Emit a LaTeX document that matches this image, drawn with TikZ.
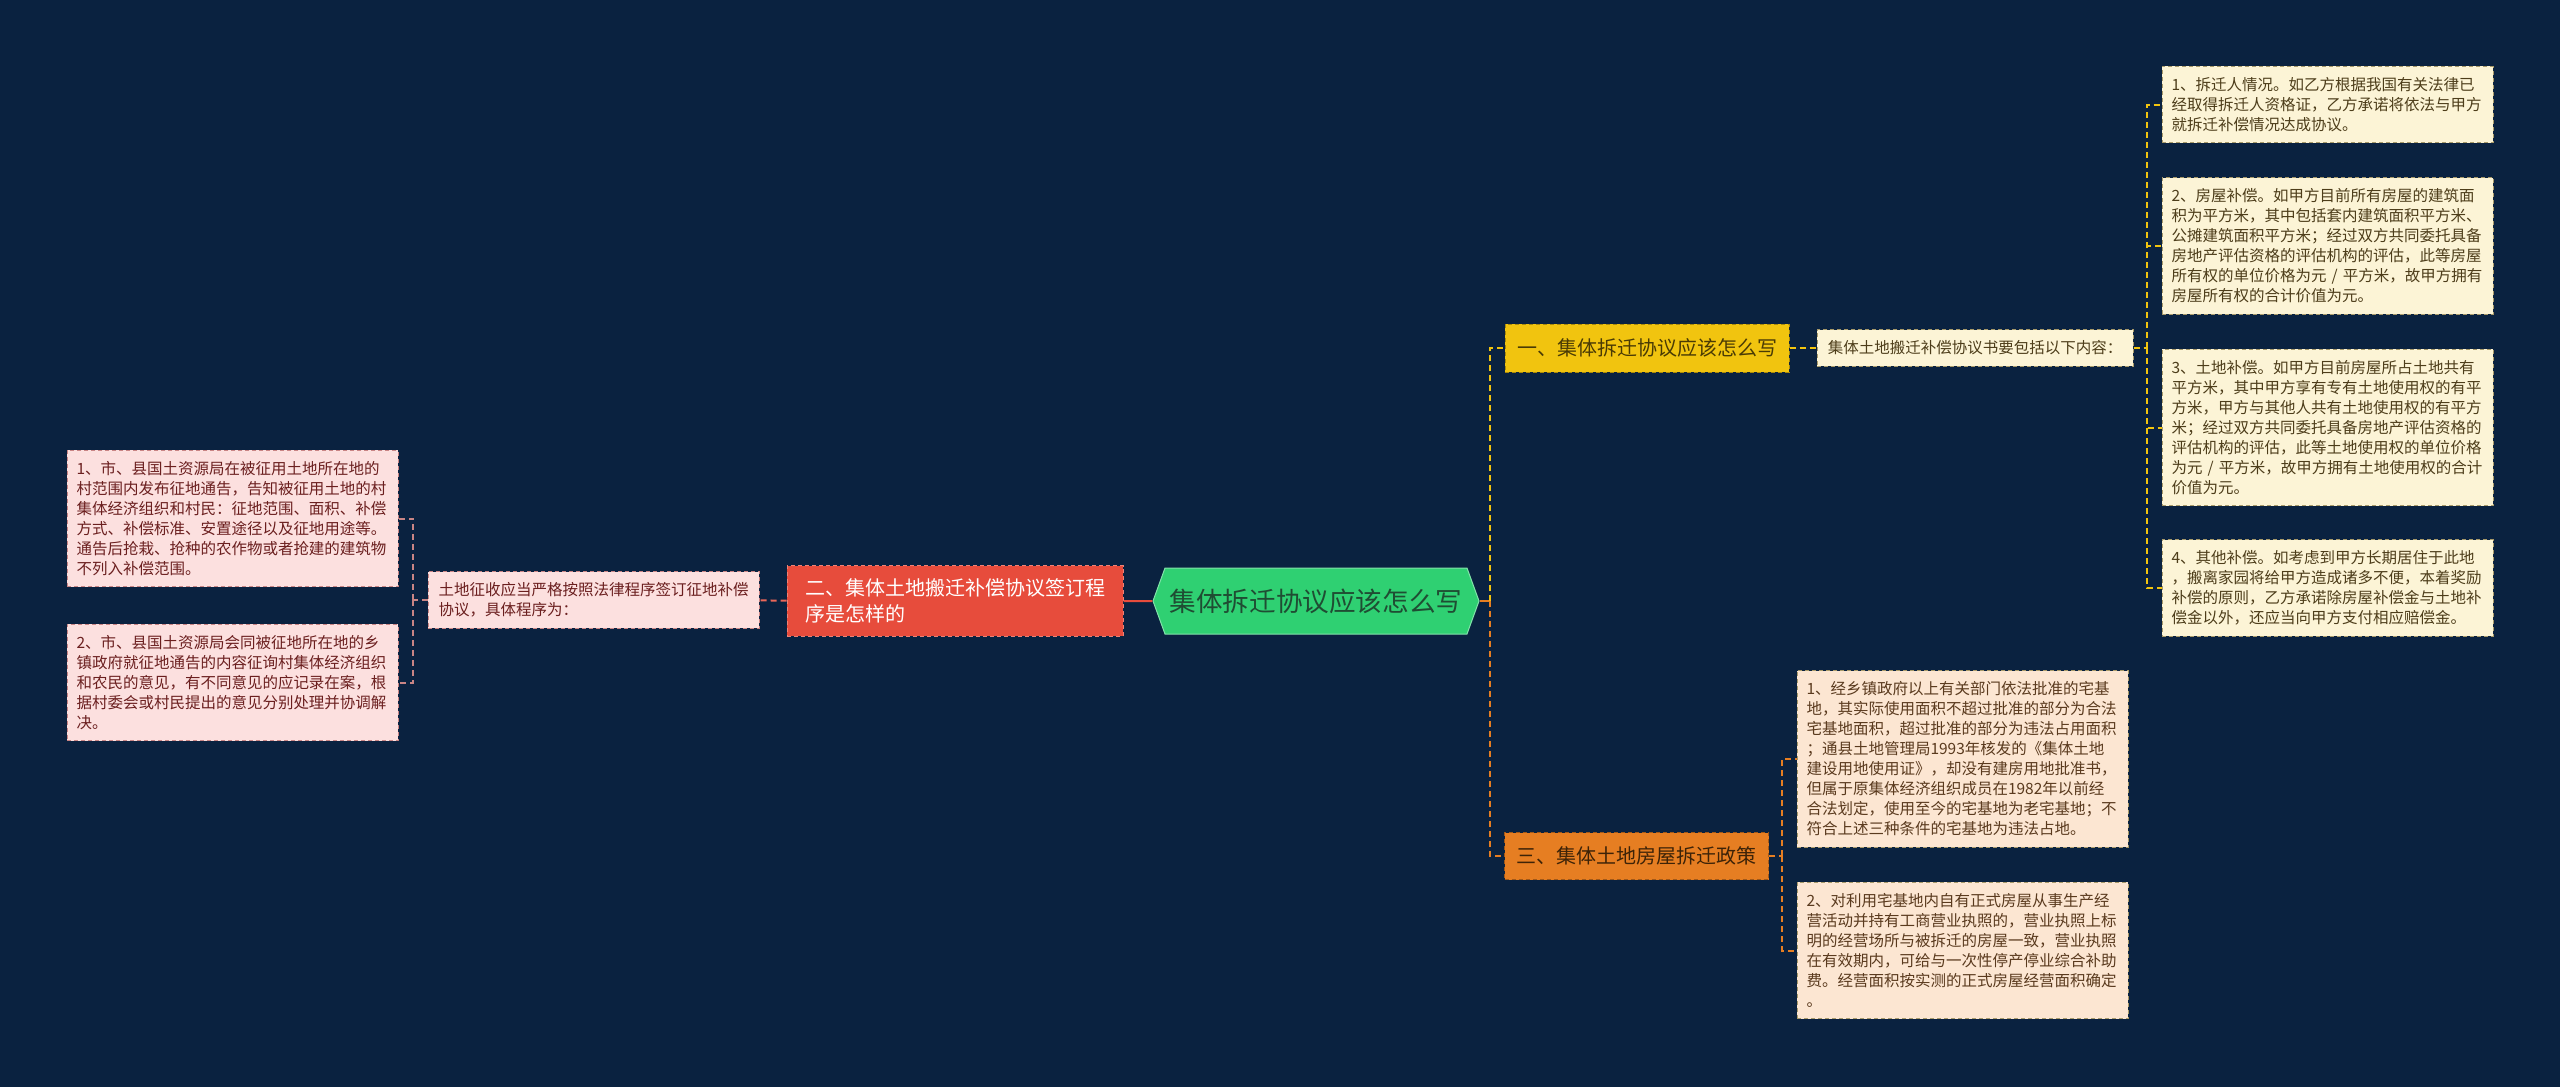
\documentclass[tikz,border=0pt]{standalone}
\usepackage{fontspec}
\newfontfamily\cjk{Noto Sans CJK SC}
\usepackage{xcolor}
\usetikzlibrary{shapes.symbols}

\definecolor{bgnavy}{HTML}{0A2240}
\definecolor{rootgreen}{HTML}{2FD072}
\definecolor{roottext}{HTML}{1F4D33}
\definecolor{redbox}{HTML}{E74C3C}
\definecolor{pinkfill}{HTML}{FCE0DF}
\definecolor{pinktext}{HTML}{6B1F1F}
\definecolor{pinkline}{HTML}{C98585}
\definecolor{yellowbox}{HTML}{F1C40F}
\definecolor{yellowtext}{HTML}{4A3B05}
\definecolor{creamfill}{HTML}{FCF4D6}
\definecolor{creamtext}{HTML}{4D3D1A}
\definecolor{creamline}{HTML}{A89A6A}
\definecolor{orangebox}{HTML}{E67E22}
\definecolor{orangetext}{HTML}{3D2308}
\definecolor{peachfill}{HTML}{FCE6D2}
\definecolor{peachtext}{HTML}{5A3A1E}

\begin{document}
\begin{tikzpicture}[x=0.5pt,y={(0pt,-0.5pt)},
  box/.style={dash pattern=on 2pt off 1.5pt,line width=0.5pt,inner ysep=5.5pt},
  small/.style={font=\cjk\fontsize{7.75}{10}\selectfont},
  mid/.style={font=\cjk\fontsize{10}{13}\selectfont},
  leaf/.style={box,small,text width=156pt,inner xsep=4.75pt,align=left},
  link/.style={line width=1pt,dash pattern=on 3pt off 2pt}]
  \fill[bgnavy] (0,0) rectangle (2560,1087);
  \useasboundingbox (0,0) rectangle (2560,1087);
  % ---------------- root ----------------
  \node[shape=signal,signal to=west and east,signal pointer angle=140,
    fill=rootgreen,draw=rootgreen!60!white,line width=0.5pt,
    minimum width=163pt,minimum height=33pt,inner sep=2pt,text=roottext,
    font=\cjk\fontsize{13.3}{16}\selectfont] (root) at (1316,601) {集体拆迁协议应该怎么写};
  % ---------------- left: 二 ----------------
  \node[box,draw=redbox!70!white,fill=redbox,text=white,mid,
    font=\cjk\fontsize{10}{13}\selectfont,
    text width=150pt,inner xsep=9pt,inner ysep=6.5pt,align=left] (two) at (955,601)
    {二、集体土地搬迁补偿协议签订程\\序是怎样的};
  \node[leaf,draw=pinkline,fill=pinkfill,text=pinktext,text width=155pt,inner xsep=5.25pt]
    (intro) at (593.5,600) {土地征收应当严格按照法律程序签订征地补偿\\协议，具体程序为：};
  \node[leaf,draw=pinkline,fill=pinkfill,text=pinktext] (l1) at (232.5,518.5)
    {1、市、县国土资源局在被征用土地所在地的\\村范围内发布征地通告，告知被征用土地的村\\集体经济组织和村民：征地范围、面积、补偿\\方式、补偿标准、安置途径以及征地用途等。\\通告后抢栽、抢种的农作物或者抢建的建筑物\\不列入补偿范围。};
  \node[leaf,draw=pinkline,fill=pinkfill,text=pinktext] (l2) at (232.5,682.5)
    {2、市、县国土资源局会同被征地所在地的乡\\镇政府就征地通告的内容征询村集体经济组织\\和农民的意见，有不同意见的应记录在案，根\\据村委会或村民提出的意见分别处理并协调解\\决。};
  \draw[line width=1pt,redbox] (root) -- (two);
  \draw[link,redbox!85!white] (two) -- (intro);
  \coordinate (jl) at (413,600);
  \draw[link,pinkline] (intro) -- (jl);
  \foreach \n in {l1,l2}
    \draw[link,pinkline] (jl) |- (\n);
  % ---------------- right: 一 ----------------
  \node[box,draw=yellowbox!70!black,fill=yellowbox,text=yellowtext,mid,
    minimum width=142pt,minimum height=24pt,inner xsep=6pt] (one) at (1647,348)
    {一、集体拆迁协议应该怎么写};
  \node[box,small,draw=creamline,fill=creamfill,text=creamtext,
    minimum width=158pt,minimum height=18pt] (cont) at (1975,348)
    {集体土地搬迁补偿协议书要包括以下内容：};
  \node[leaf,draw=creamline,fill=creamfill,text=creamtext] (r1) at (2327.5,104.5)
    {1、拆迁人情况。如乙方根据我国有关法律已\\经取得拆迁人资格证，乙方承诺将依法与甲方\\就拆迁补偿情况达成协议。};
  \node[leaf,draw=creamline,fill=creamfill,text=creamtext] (r2) at (2327.5,246)
    {2、房屋补偿。如甲方目前所有房屋的建筑面\\积为平方米，其中包括套内建筑面积平方米、\\公摊建筑面积平方米；经过双方共同委托具备\\房地产评估资格的评估机构的评估，此等房屋\\所有权的单位价格为元 / 平方米，故甲方拥有\\房屋所有权的合计价值为元。};
  \node[leaf,draw=creamline,fill=creamfill,text=creamtext] (r3) at (2327.5,427.5)
    {3、土地补偿。如甲方目前房屋所占土地共有\\平方米，其中甲方享有专有土地使用权的有平\\方米，甲方与其他人共有土地使用权的有平方\\米；经过双方共同委托具备房地产评估资格的\\评估机构的评估，此等土地使用权的单位价格\\为元 / 平方米，故甲方拥有土地使用权的合计\\价值为元。};
  \node[leaf,draw=creamline,fill=creamfill,text=creamtext] (r4) at (2327.5,588)
    {4、其他补偿。如考虑到甲方长期居住于此地\\，搬离家园将给甲方造成诸多不便，本着奖励\\补偿的原则，乙方承诺除房屋补偿金与土地补\\偿金以外，还应当向甲方支付相应赔偿金。};
  % ---------------- right: 三 ----------------
  \node[box,draw=orangebox!70!black,fill=orangebox,text=orangetext,mid,
    minimum width=131.5pt,minimum height=23.5pt,inner xsep=6pt] (three) at (1636.5,856)
    {三、集体土地房屋拆迁政策};
  \node[leaf,draw=creamline,fill=peachfill,text=peachtext] (o1) at (1962.5,759)
    {1、经乡镇政府以上有关部门依法批准的宅基\\地，其实际使用面积不超过批准的部分为合法\\宅基地面积，超过批准的部分为违法占用面积\\；通县土地管理局1993年核发的《集体土地\\建设用地使用证》，却没有建房用地批准书，\\但属于原集体经济组织成员在1982年以前经\\合法划定，使用至今的宅基地为老宅基地；不\\符合上述三种条件的宅基地为违法占地。};
  \node[leaf,draw=creamline,fill=peachfill,text=peachtext] (o2) at (1962.5,950.5)
    {2、对利用宅基地内自有正式房屋从事生产经\\营活动并持有工商营业执照的，营业执照上标\\明的经营场所与被拆迁的房屋一致，营业执照\\在有效期内，可给与一次性停产停业综合补助\\费。经营面积按实测的正式房屋经营面积确定\\。};
  % connectors on the right
  \coordinate (jm) at (1490,601);
  \draw[line width=1pt,orangebox] (root) -- (jm);
  \draw[link,yellowbox] (jm) |- (one);
  \draw[link,orangebox] (jm) |- (three);
  \draw[link,yellowbox] (one) -- (cont);
  \coordinate (jr) at (2147,348);
  \draw[link,yellowbox] (cont) -- (jr);
  \foreach \n in {r1,r2,r3,r4}
    \draw[link,yellowbox] (jr) |- (\n);
  \coordinate (jo) at (1782,856);
  \draw[link,orangebox] (three) -- (jo);
  \foreach \n in {o1,o2}
    \draw[link,orangebox] (jo) |- (\n);
\end{tikzpicture}
\end{document}
